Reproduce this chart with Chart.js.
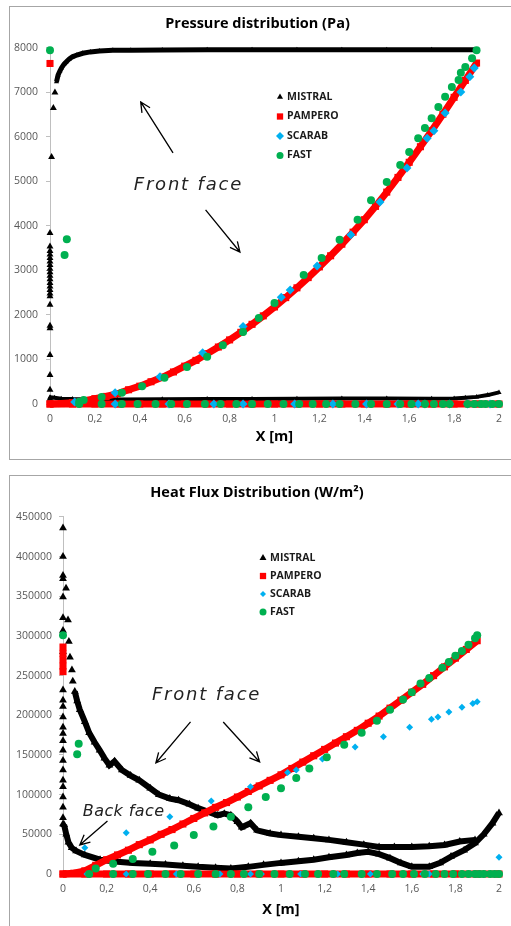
<!DOCTYPE html>
<html>
<head>
<meta charset="utf-8">
<script src="https://cdn.jsdelivr.net/npm/chart.js@4.4.0/dist/chart.umd.min.js"></script>
<style>
    html, body { margin: 0; padding: 0; background: #fff; overflow: hidden; }
    .box { position: absolute; left: 9px; width: 530px; border: 1px solid #a6a6a6; }
    #box1 { top: 6px; height: 452px; }
    #box2 { top: 475px; height: 470px; }
    canvas { position: absolute; left: 0; top: 0; }
</style>
</head>
<body>
<div class="box" id="box1"><canvas id="pressureChart" width="501" height="452"></canvas></div>
<div class="box" id="box2"><canvas id="heatChart" width="501" height="450"></canvas></div>
<script>
// --- Axis ticks --- //
const xTickValues = [0, 0.2, 0.4, 0.6, 0.8, 1, 1.2, 1.4, 1.6, 1.8, 2];
const xTickLabels = ['0', '0,2', '0,4', '0,6', '0,8', '1', '1,2', '1,4', '1,6', '1,8', '2'];
const pTickValues = [0, 1000, 2000, 3000, 4000, 5000, 6000, 7000, 8000];
const pTickLabels = ['0', '1000', '2000', '3000', '4000', '5000', '6000', '7000', '8000'];
const hTickValues = [0, 50000, 100000, 150000, 200000, 250000, 300000, 350000, 400000, 450000];
const hTickLabels = ['0', '50000', '100000', '150000', '200000', '250000', '300000', '350000', '400000', '450000'];

const seriesNames = ['MISTRAL', 'PAMPERO', 'SCARAB', 'FAST'];

// --- Pressure (Pa) --- //
const pMistralFrontX = [0.029, 0.036, 0.044, 0.051, 0.062, 0.073, 0.086, 0.1, 0.12, 0.146, 0.18, 0.22, 0.28, 0.36, 0.5, 0.7, 0.9, 1.1, 1.3, 1.5, 1.7, 1.89];
const pMistralFrontY = [7240, 7390, 7480, 7550, 7630, 7690, 7750, 7800, 7840, 7880, 7910, 7930, 7945, 7950, 7955, 7960, 7960, 7960, 7960, 7960, 7960, 7960];
const pMistralNoseX = [0, 0, 0, 0, 0, 0, 0, 0, 0, 0, 0, 0, 0, 0, 0, 0, 0, 0, 0, 0, 0, 0, 0, 0.007, 0.015, 0.022];
const pMistralNoseY = [120, 320, 650, 1100, 1700, 1760, 2230, 2420, 2480, 2560, 2640, 2720, 2800, 2880, 2960, 3040, 3120, 3200, 3280, 3360, 3440, 3540, 3840, 5550, 6650, 7000];
const pMistralBackX = [0, 0.02, 0.05, 0.1, 0.2, 0.3, 0.5, 0.7, 0.9, 1.1, 1.3, 1.5, 1.7, 1.8, 1.85, 1.9, 1.95, 2.0];
const pMistralBackY = [150, 140, 120, 110, 105, 100, 105, 110, 115, 120, 125, 125, 120, 125, 140, 160, 200, 260];

const pPamperoFrontX = [0, 0.05, 0.1, 0.15, 0.2, 0.25, 0.3, 0.35, 0.4, 0.45, 0.5, 0.55, 0.6, 0.65, 0.7, 0.75, 0.8, 0.85, 0.9, 0.95, 1.0, 1.05, 1.1, 1.15, 1.2, 1.25, 1.3, 1.35, 1.4, 1.45, 1.5, 1.55, 1.6, 1.65, 1.7, 1.75, 1.8, 1.85, 1.9];
const pPamperoFrontY = [0, 10, 30, 70, 120, 170, 230, 320, 400, 500, 600, 720, 850, 980, 1130, 1280, 1440, 1610, 1790, 1980, 2180, 2390, 2610, 2840, 3080, 3330, 3590, 3860, 4140, 4440, 4760, 5090, 5430, 5780, 6140, 6510, 6890, 7270, 7660];
const pPamperoBackX = [0, 0.1, 0.2, 0.3, 0.4, 0.5, 0.6, 0.7, 0.8, 0.9, 1.0, 1.1, 1.2, 1.3, 1.4, 1.5, 1.6, 1.7, 1.8, 1.9, 2.0];
const pPamperoBackY = [0, 0, 0, 0, 0, 0, 0, 0, 0, 0, 0, 0, 0, 0, 0, 0, 0, 0, 0, 0, 0];
const pPamperoNoseX = [0];
const pPamperoNoseY = [7650];

const pScarabX = [0.29, 0.49, 0.68, 0.86, 1.03, 1.07, 1.19, 1.34, 1.47, 1.59, 1.68, 1.71, 1.76, 1.83, 1.87, 1.89,
    0.11, 0.29, 0.53, 0.73, 0.86, 1.09, 1.26, 1.41, 1.55, 1.64, 1.67, 1.78, 1.86, 1.96];
const pScarabY = [250, 610, 1150, 1740, 2400, 2560, 3100, 3800, 4540, 5300, 5970, 6140, 6540, 7010, 7350, 7550,
    45, 0, 0, 0, 0, 0, 0, 0, 0, 0, 0, 0, 0, 0];

const pFastX = [0, 0.065, 0.075,
    0.13, 0.15, 0.23, 0.32, 0.41, 0.51, 0.61, 0.70, 0.77, 0.86, 0.93, 1.0, 1.13, 1.21, 1.29, 1.37, 1.43, 1.50, 1.56, 1.60, 1.64, 1.67, 1.70, 1.73, 1.76, 1.79, 1.82, 1.83, 1.85, 1.88, 1.90,
    0.13, 0.23, 0.32, 0.39, 0.47, 0.54, 0.61, 0.69, 0.76, 0.83, 0.90, 0.97, 1.04, 1.11, 1.17, 1.23, 1.29, 1.36, 1.43, 1.50, 1.56, 1.61, 1.67, 1.71, 1.75, 1.78, 1.86, 1.89, 1.92, 1.94, 1.97, 2.0];
const pFastY = [7950, 3350, 3700,
    50, 90, 160, 250, 400, 590, 830, 1060, 1320, 1620, 1930, 2270, 2900, 3280, 3690, 4140, 4580, 4990, 5370, 5660, 5970, 6200, 6420, 6670, 6900, 7120, 7280, 7440, 7570, 7770, 7950,
    0, 0, 0, 0, 0, 0, 0, 0, 0, 0, 0, 0, 0, 0, 0, 0, 0, 0, 0, 0, 0, 0, 0, 0, 0, 0, 0, 0, 0, 0, 0, 0];

// --- Heat flux (W/m²) --- //
const hMistralNoseX = [0, 0, 0, 0, 0, 0, 0, 0, 0, 0, 0, 0, 0, 0, 0, 0, 0, 0, 0, 0, 0, 0, 0, 0,
    0.014, 0.023, 0.027, 0.032, 0.041, 0.045];
const hMistralNoseY = [436000, 400000, 376000, 372000, 349000, 323000, 307000, 280000, 232000, 219000, 211000, 198000, 185000, 177000, 168000, 156000, 143000, 131000, 118000, 110000, 97000, 84000, 71000, 63000,
    360000, 320000, 293000, 273000, 257000, 243000];
const hMistralFrontX = [0.054, 0.065, 0.077, 0.1, 0.12, 0.145, 0.168, 0.19, 0.213, 0.236, 0.27, 0.31, 0.35, 0.4, 0.44, 0.49, 0.53, 0.58, 0.62, 0.67, 0.71, 0.74, 0.77, 0.8, 0.82, 0.86, 0.89, 0.95, 1.0, 1.08, 1.15, 1.22, 1.3, 1.38, 1.45, 1.52, 1.6, 1.68, 1.75, 1.82, 1.89];
const hMistralFrontY = [230000, 218000, 207000, 192000, 178000, 166000, 156000, 146000, 137000, 142000, 131000, 124000, 118000, 108000, 100000, 95000, 93000, 88000, 83000, 78000, 74000, 76000, 74000, 66000, 59000, 64000, 55000, 51000, 49000, 47000, 45000, 43000, 40000, 37000, 34000, 34000, 34000, 35000, 36500, 41000, 43000];
const hMistralBackX = [0.005, 0.015, 0.025, 0.04, 0.06, 0.1, 0.17, 0.25, 0.32, 0.4, 0.47, 0.55, 0.62, 0.7, 0.77, 0.85, 0.92, 1.0, 1.08, 1.15, 1.22, 1.3, 1.35, 1.4, 1.45, 1.5, 1.55, 1.6, 1.68, 1.73, 1.78, 1.84, 1.89, 1.93, 1.97, 2.0];
const hMistralBackY = [62000, 50000, 40000, 33000, 29000, 24000, 18000, 15500, 14000, 13000, 12000, 10500, 9000, 8000, 7000, 9000, 11500, 14000, 16000, 18000, 21000, 24000, 26500, 28000, 25000, 20000, 14000, 9000, 9000, 14000, 22000, 30000, 39000, 50000, 64000, 77000];

const hPamperoFrontX = [0, 0.05, 0.1, 0.15, 0.2, 0.25, 0.3, 0.35, 0.4, 0.45, 0.5, 0.55, 0.6, 0.65, 0.7, 0.75, 0.8, 0.85, 0.9, 0.95, 1.0, 1.05, 1.1, 1.15, 1.2, 1.25, 1.3, 1.35, 1.4, 1.45, 1.5, 1.55, 1.6, 1.65, 1.7, 1.75, 1.8, 1.85, 1.9];
const hPamperoFrontY = [0, 1000, 4000, 11000, 18000, 24000, 30000, 37000, 43000, 50000, 56000, 63000, 70000, 77000, 84000, 90000, 97000, 104000, 111000, 118000, 125000, 133000, 141000, 149000, 157000, 165000, 173000, 181000, 190000, 199000, 209000, 219000, 229000, 239000, 250000, 261000, 272000, 283000, 294000];
const hPamperoBackX = [0, 0.1, 0.2, 0.3, 0.4, 0.5, 0.6, 0.7, 0.8, 0.9, 1.0, 1.1, 1.2, 1.3, 1.4, 1.5, 1.6, 1.7, 1.8, 1.9, 2.0];
const hPamperoBackY = [0, 0, 0, 0, 0, 0, 0, 0, 0, 0, 0, 0, 0, 0, 0, 0, 0, 0, 0, 0, 0];
const hPamperoNoseX = [0, 0, 0, 0, 0];
const hPamperoNoseY = [255000, 262000, 270000, 278000, 286000];

const hScarabX = [0.1, 0.29, 0.49, 0.68, 0.86, 1.03, 1.07, 1.19, 1.34, 1.47, 1.59, 1.69, 1.72, 1.77, 1.83, 1.88, 1.90, 2.0,
    0.11, 0.29, 0.32, 0.52, 0.72, 0.86, 0.91, 1.09, 1.26, 1.41, 1.56, 1.65, 1.68, 1.79, 1.87, 1.93, 1.98];
const hScarabY = [33000, 52000, 72000, 92000, 110000, 128000, 131000, 145000, 160000, 173000, 185000, 195000, 198000, 204000, 210000, 215000, 217000, 21000,
    0, 0, 0, 0, 0, 0, 0, 0, 0, 0, 0, 0, 0, 0, 0, 0, 0];

const hFastX = [0, 0.065, 0.072,
    0.15, 0.23, 0.32, 0.41, 0.51, 0.60, 0.69, 0.77, 0.85, 0.93, 1.0, 1.07, 1.13, 1.21, 1.29, 1.37, 1.44, 1.50, 1.56, 1.60, 1.64, 1.68, 1.74, 1.77, 1.80, 1.83, 1.86, 1.89, 1.90,
    0.12, 0.23, 0.32, 0.39, 0.47, 0.54, 0.62, 0.70, 0.77, 0.83, 0.90, 0.97, 1.04, 1.11, 1.17, 1.24, 1.29, 1.37, 1.44, 1.51, 1.56, 1.61, 1.66, 1.71, 1.75, 1.79, 1.83, 1.86, 1.89, 1.91, 1.93, 1.96, 1.98, 2.0];
const hFastY = [301000, 151000, 164000,
    7000, 13000, 19000, 28000, 36000, 49000, 60000, 72000, 84000, 97000, 108000, 121000, 133000, 147000, 163000, 178000, 193000, 207000, 220000, 229000, 240000, 247000, 260000, 267000, 275000, 281000, 289000, 297000, 301000,
    0, 0, 0, 0, 0, 0, 0, 0, 0, 0, 0, 0, 0, 0, 0, 0, 0, 0, 0, 0, 0, 0, 0, 0, 0, 0, 0, 0, 0, 0, 0, 0, 0, 0];

// --- Look --- //
const FONT = '"Open Sans", Lato, sans-serif';
const look = [
    { color: '#000000', style: 'triangle' },
    { color: '#ff0000', style: 'rect' },
    { color: '#00b0f0', style: 'rectRot' },
    { color: '#00b050', style: 'circle' }
];

const pts = (xs, ys) => xs.map((x, i) => ({ x: x, y: ys[i] }));

function makeSet(series, xs, ys, radius, lineWidth) {
    return {
        label: seriesNames[series],
        data: pts(xs, ys),
        showLine: !!lineWidth,
        borderWidth: lineWidth || 0,
        borderColor: look[series].color,
        backgroundColor: look[series].color,
        pointStyle: look[series].style,
        pointRadius: radius,
        pointBorderWidth: 0,
        pointHoverRadius: radius,
        tension: 0,
        clip: 12,
        order: 3 - series
    };
}

function drawMarker(ctx, style, x, y, r, color) {
    ctx.fillStyle = color;
    ctx.beginPath();
    if (style === 'triangle') {
        ctx.moveTo(x, y - r);
        ctx.lineTo(x + r * 0.87, y + r * 0.5);
        ctx.lineTo(x - r * 0.87, y + r * 0.5);
    } else if (style === 'rect') {
        ctx.rect(x - r * 0.7, y - r * 0.7, r * 1.4, r * 1.4);
    } else if (style === 'rectRot') {
        ctx.moveTo(x, y - r); ctx.lineTo(x + r, y); ctx.lineTo(x, y + r); ctx.lineTo(x - r, y);
    } else {
        ctx.arc(x, y, r, 0, Math.PI * 2);
    }
    ctx.closePath();
    ctx.fill();
}

// legend drawn inside the plot, like the spreadsheet one
const seriesLegend = {
    id: 'seriesLegend',
    afterDraw(chart, args, opts) {
        const ctx = chart.ctx;
        ctx.save();
        ctx.font = 'bold 10.5px ' + FONT;
        ctx.textBaseline = 'middle';
        ctx.textAlign = 'left';
        seriesNames.forEach((name, i) => {
            const y = opts.top + i * opts.gap;
            drawMarker(ctx, look[i].style, opts.left, y, opts.sizes[i], look[i].color);
            ctx.fillStyle = '#1a1a1a';
            ctx.fillText(name, opts.left + 7, y);
        });
        ctx.restore();
    }
};

// arrows and "Front face" / "Back face" notes
const notes = {
    id: 'notes',
    afterDatasetsDraw(chart, args, opts) {
        const ctx = chart.ctx;
        const sx = chart.scales.x, sy = chart.scales.y;
        ctx.save();
        ctx.strokeStyle = '#000';
        ctx.lineWidth = 1.3;
        (opts.arrows || []).forEach(a => {
            const x1 = sx.getPixelForValue(a[0]), y1 = sy.getPixelForValue(a[1]);
            const x2 = sx.getPixelForValue(a[2]), y2 = sy.getPixelForValue(a[3]);
            const ang = Math.atan2(y2 - y1, x2 - x1);
            ctx.beginPath();
            ctx.moveTo(x1, y1);
            ctx.lineTo(x2, y2);
            ctx.moveTo(x2 - 11 * Math.cos(ang - 0.45), y2 - 11 * Math.sin(ang - 0.45));
            ctx.lineTo(x2, y2);
            ctx.lineTo(x2 - 11 * Math.cos(ang + 0.45), y2 - 11 * Math.sin(ang + 0.45));
            ctx.stroke();
        });
        ctx.fillStyle = '#222';
        ctx.textAlign = 'left';
        ctx.textBaseline = 'alphabetic';
        (opts.texts || []).forEach(t => {
            ctx.font = 'italic ' + t.size + 'px "DejaVu Sans", sans-serif';
            ctx.letterSpacing = t.spacing + 'px';
            ctx.fillText(t.text, sx.getPixelForValue(t.x), sy.getPixelForValue(t.y));
        });
        ctx.restore();
    }
};

function buildChart(id, cfg) {
    return new Chart(document.getElementById(id), {
        type: 'scatter',
        data: { datasets: cfg.datasets },
        plugins: [seriesLegend, notes],
        options: {
            responsive: false,
            animation: false,
            layout: { padding: { left: 0, right: cfg.rightPad, top: 0, bottom: 0 } },
            plugins: {
                legend: { display: false },
                tooltip: { enabled: false },
                title: {
                    display: true,
                    text: cfg.title,
                    color: '#000',
                    font: { family: FONT, size: 14.5, weight: 'bold' },
                    padding: { top: 8, bottom: 15.5 }
                },
                seriesLegend: cfg.legend,
                notes: cfg.notes
            },
            scales: {
                x: {
                    type: 'linear',
                    min: 0,
                    max: 2,
                    afterBuildTicks: s => { s.ticks = xTickValues.map(v => ({ value: v })); },
                    afterFit: s => { s.height = cfg.xHeight; },
                    grid: { display: false, drawTicks: false },
                    border: { display: true, color: '#bfbfbf' },
                    ticks: {
                        padding: 9,
                        color: '#595959',
                        font: { family: FONT, size: 10.5 },
                        callback: (v, i) => xTickLabels[i]
                    },
                    title: {
                        display: true,
                        text: 'X [m]',
                        color: '#000',
                        font: { family: FONT, size: 14.5, weight: 'bold' },
                        padding: { top: 0, bottom: cfg.xTitlePad }
                    }
                },
                y: {
                    type: 'linear',
                    min: 0,
                    max: cfg.yTickValues[cfg.yTickValues.length - 1],
                    afterBuildTicks: s => { s.ticks = cfg.yTickValues.map(v => ({ value: v })); },
                    afterFit: s => { s.width = cfg.yWidth; },
                    grid: { display: true, drawOnChartArea: false, tickLength: 4, color: '#bfbfbf' },
                    border: { display: true, color: '#bfbfbf' },
                    ticks: {
                        padding: cfg.yPad,
                        color: '#595959',
                        font: { family: FONT, size: 10.5 },
                        callback: (v, i) => cfg.yTickLabels[i]
                    }
                }
            }
        }
    });
}

buildChart('pressureChart', {
    title: 'Pressure distribution (Pa)',
    rightPad: 6,
    xHeight: 55,
    xTitlePad: 13,
    yWidth: 40,
    yPad: 8,
    yTickValues: pTickValues,
    yTickLabels: pTickLabels,
    legend: { left: 270, top: 90, gap: 19.5, sizes: [3.5, 4.5, 4, 3.5] },
    notes: {
        arrows: [[0.548, 5640, 0.404, 6786], [0.693, 4360, 0.846, 3415]],
        texts: [{ text: 'Front face', x: 0.373, y: 4810, size: 18, spacing: 1.8 }]
    },
    datasets: [
        makeSet(0, pMistralFrontX, pMistralFrontY, 3, 5),
        makeSet(0, pMistralNoseX, pMistralNoseY, 4, 0),
        makeSet(0, pMistralBackX, pMistralBackY, 3, 4),
        makeSet(1, pPamperoFrontX, pPamperoFrontY, 5, 7),
        makeSet(1, pPamperoBackX, pPamperoBackY, 5, 7),
        makeSet(1, pPamperoNoseX, pPamperoNoseY, 5, 0),
        makeSet(2, pScarabX, pScarabY, 4.5, 0),
        makeSet(3, pFastX, pFastY, 4, 0)
    ]
});

buildChart('heatChart', {
    title: 'Heat Flux Distribution (W/m²)',
    rightPad: 7,
    xHeight: 52,
    xTitlePad: 7,
    yWidth: 53,
    yPad: 7,
    yTickValues: hTickValues,
    yTickLabels: hTickLabels,
    legend: { left: 253, top: 82, gap: 18, sizes: [4, 4.5, 3, 3.5] },
    notes: {
        arrows: [[0.585, 191600, 0.426, 139900], [0.735, 191600, 0.902, 141200], [0.204, 66800, 0.077, 36600]],
        texts: [
            { text: 'Front face', x: 0.408, y: 219300, size: 18, spacing: 1.8 },
            { text: 'Back face', x: 0.091, y: 73100, size: 16, spacing: 0.4 }
        ]
    },
    datasets: [
        makeSet(0, hMistralFrontX, hMistralFrontY, 4.5, 6),
        makeSet(0, hMistralNoseX, hMistralNoseY, 4.5, 0),
        makeSet(0, hMistralBackX, hMistralBackY, 4.5, 6),
        makeSet(1, hPamperoFrontX, hPamperoFrontY, 5, 7),
        makeSet(1, hPamperoBackX, hPamperoBackY, 5, 7),
        makeSet(1, hPamperoNoseX, hPamperoNoseY, 5, 0),
        makeSet(2, hScarabX, hScarabY, 3.5, 0),
        makeSet(3, hFastX, hFastY, 4, 0)
    ]
});
</script>
</body>
</html>
